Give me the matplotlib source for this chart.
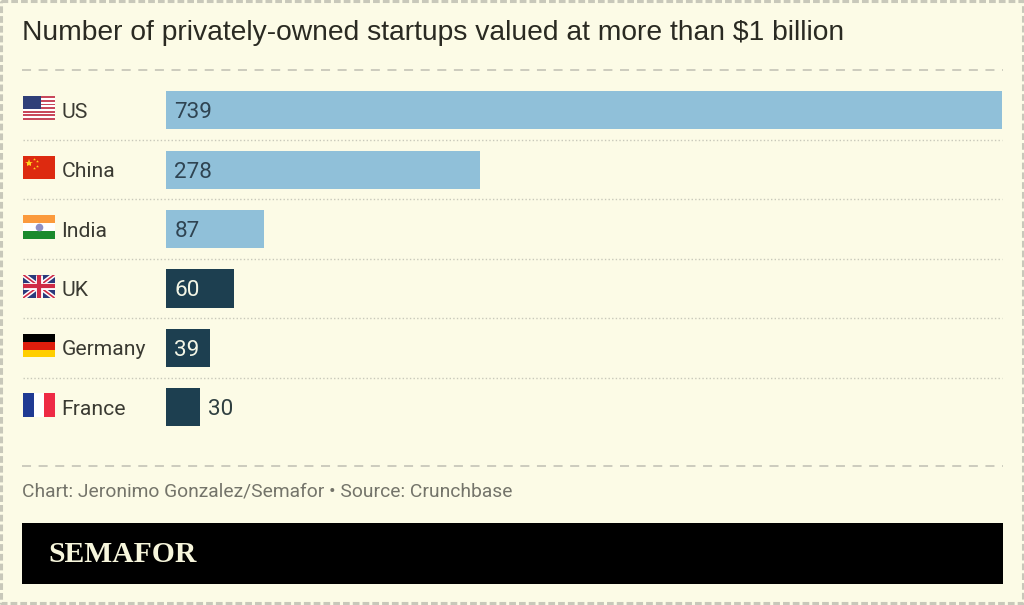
import numpy as np
import matplotlib
matplotlib.use('Agg')
import matplotlib.pyplot as plt
from matplotlib.patches import Rectangle

countries = ['US', 'China', 'India', 'UK', 'Germany', 'France']
startups = [739, 278, 87, 60, 39, 30]
colors = ['#90c0d9', '#90c0d9', '#90c0d9', '#1d3f50', '#1d3f50', '#1d3f50']
label_colors = ['#2f4452', '#2f4452', '#2f4452', '#f4f6e6', '#f4f6e6', '#2f3f40']
title = 'Number of privately-owned startups valued at more than $1 billion'
credit = 'Chart: Jeronimo Gonzalez/Semafor \u2022 Source: Crunchbase'

W, H = 1024, 605
BG = '#fcfbe6'
LINE = '#c8c8ba'
ROW_H = 59.4
FIRST_ROW = 110.3


def px_axes(fig, x0, y0, x1, y1):
    # rectangle given in image pixels, y going down
    return fig.add_axes([x0 / W, 1 - y1 / H, (x1 - x0) / W, (y1 - y0) / H])


def flag_us(ax):
    for i in range(13):
        ax.add_patch(Rectangle((0, i / 13), 1, 1 / 13, color='#c9485b' if i % 2 == 0 else 'white', lw=0))
    ax.add_patch(Rectangle((0, 0), 0.57, 7 / 13, color='#2f3f78', lw=0))


def flag_china(ax):
    ax.add_patch(Rectangle((0, 0), 1, 1, color='#dd2a10', lw=0))
    ax.plot([0.18], [0.3], marker='*', ms=6, color='#ffd21f', mew=0)
    ax.plot([0.35, 0.44, 0.44, 0.35], [0.12, 0.24, 0.42, 0.54], ls='', marker='*', ms=2.2, color='#ffd21f', mew=0)


def flag_india(ax):
    ax.add_patch(Rectangle((0, 0), 1, 1 / 3, color='#fb9a3c', lw=0))
    ax.add_patch(Rectangle((0, 1 / 3), 1, 1 / 3, color='white', lw=0))
    ax.add_patch(Rectangle((0, 2 / 3), 1, 1 / 3, color='#1a8a2c', lw=0))
    ax.plot([0.5], [0.5], marker='o', ms=5.5, color='#8f8fc4', mew=0)


def flag_uk(ax):
    ax.add_patch(Rectangle((0, 0), 1, 1, color='#2a3a7c', lw=0))
    for a, b in [((0, 1), (0, 1)), ((0, 1), (1, 0))]:
        ax.plot(a, b, color='white', lw=3.4, solid_capstyle='butt')
        ax.plot(a, b, color='#cf2b45', lw=1.2, solid_capstyle='butt')
    ax.plot([0.5, 0.5], [0, 1], color='white', lw=5, solid_capstyle='butt')
    ax.plot([0, 1], [0.5, 0.5], color='white', lw=5, solid_capstyle='butt')
    ax.plot([0.5, 0.5], [0, 1], color='#cf2b45', lw=3, solid_capstyle='butt')
    ax.plot([0, 1], [0.5, 0.5], color='#cf2b45', lw=3, solid_capstyle='butt')


def flag_germany(ax):
    for i, c in enumerate(['#000000', '#dd1d0c', '#ffce00']):
        ax.add_patch(Rectangle((0, i / 3), 1, 1 / 3, color=c, lw=0))


def flag_france(ax):
    for i, c in enumerate(['#1f3a93', 'white', '#ee2a45']):
        ax.add_patch(Rectangle((i / 3, 0), 1 / 3, 1, color=c, lw=0))


flags = [flag_us, flag_china, flag_india, flag_uk, flag_germany, flag_france]

fig = plt.figure(figsize=(W / 100, H / 100), dpi=100, facecolor=BG)

# page furniture, in pixels
bg = fig.add_axes([0, 0, 1, 1])
bg.set_xlim(0, W)
bg.set_ylim(H, 0)
bg.axis('off')
bg.plot([1, W - 1, W - 1, 1, 1], [1, 1, H - 2, H - 2, 1], color=LINE, lw=2.2, ls=(0, (2.2, 1)), clip_on=False)
bg.plot([22, 1003], [70, 70], color=LINE, lw=1.3, ls=(0, (5, 4.2)))
bg.plot([22, 1003], [466, 466], color=LINE, lw=1.3, ls=(0, (5, 4.2)))
for i in range(1, len(countries)):
    y = FIRST_ROW - ROW_H / 2 + i * ROW_H
    bg.plot([23, 1002], [y, y], color=LINE, lw=1, ls=(0, (1, 1.6)))
bg.add_patch(Rectangle((22, 523), 981, 61, color='black', lw=0))
bg.text(21.5, 33.5, title, fontsize=20.3, color='#2a2a22', family='Liberation Sans', va='center', ha='left')
bg.text(22, 491, credit, fontsize=13.9, color='#74746a', family='Roboto', va='center', ha='left')
bg.text(48.5, 554.5, 'SEMAFOR', fontsize=21.3, color='#f7f6dc', family='Liberation Serif', weight='bold', va='center', ha='left')

# bars
ax = px_axes(fig, 166, FIRST_ROW - ROW_H / 2, 1002, FIRST_ROW + 5.5 * ROW_H)
ax.patch.set_alpha(0)
ypos = np.arange(len(countries))
ax.barh(ypos, startups, height=0.64, color=colors)
ax.set_xlim(0, max(startups))
ax.set_ylim(len(countries) - 0.5, -0.5)
ax.axis('off')

for i, v in enumerate(startups):
    # France's bar is too narrow, its label sits outside
    if v > 30:
        ax.annotate(str(v), (0, i), xytext=(6, 0), textcoords='offset points',
                    fontsize=16.2, family='Roboto', color=label_colors[i], va='center_baseline')
    else:
        ax.annotate(str(v), (v, i), xytext=(6, 0), textcoords='offset points',
                    fontsize=16.2, family='Roboto', color=label_colors[i], va='center_baseline')

# country names and flags
for i, name in enumerate(countries):
    yc = FIRST_ROW + i * ROW_H
    bg.text(61.5, yc, name, fontsize=15.2, family='Roboto', color='#3a3a32', va='center_baseline', ha='left')
    fa = px_axes(fig, 23, yc - 14, 54.5, yc + 9.5)
    fa.set_xlim(0, 1)
    fa.set_ylim(1, 0)
    fa.axis('off')
    flags[i](fa)

fig.savefig('out.png', dpi=100, facecolor=BG)
